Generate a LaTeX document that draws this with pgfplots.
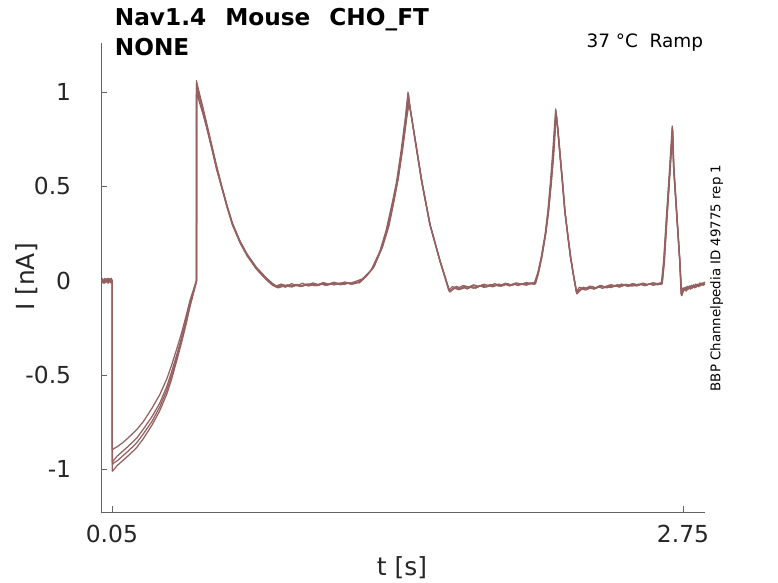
\documentclass[border=0pt]{standalone}
\usepackage{pgfplots}
\pgfplotsset{compat=1.18}
\usepackage{fontspec}
\setmainfont{DejaVu Sans}
\definecolor{chtrace}{RGB}{148,96,96}
\definecolor{axgray}{RGB}{100,100,100}
\tikzset{tr/.style={draw=chtrace, line width=1.25bp, line join=round, mark=none}}
\begin{document}
\begin{tikzpicture}
\useasboundingbox (-101.3bp,-71bp) rectangle (676.7bp,512bp);
\begin{axis}[
  at={(0,0)}, anchor=south west,
  scale only axis, width=603.7bp, height=468.7bp,
  xmin=0, xmax=2.854, ymin=-1.226, ymax=1.258,
  axis lines=left, axis line style={-, draw=axgray, line width=0.7bp},
  tick style={draw=axgray, line width=0.7bp},
  tick align=inside, major tick length=5.5bp,
  xtick={0.05,2.75}, xticklabels={0.05,2.75},
  ytick={-1,-0.5,0,0.5,1}, yticklabels={-1,-0.5,0,0.5,1},
  ticklabel style={font=\fontsize{23.5}{28}\selectfont, text=black!85, inner sep=0pt},
  yticklabel style={anchor=east, xshift=-30bp},
  xticklabel style={anchor=north, yshift=-13bp},
  clip=true,
]
% trace A
\addplot[tr] coordinates {
(0.000,-0.005)(0.005,0.010)(0.010,-0.010)(0.015,0.005)(0.020,-0.008)(0.025,0.008)(0.030,-0.004)(0.035,0.012)(0.040,-0.006)(0.045,0.006)(0.050,-0.002)(0.052,0.000)
(0.0521,-0.96)(0.060,-0.95)(0.075,-0.93)(0.10,-0.905)(0.13,-0.875)(0.167,-0.835)(0.20,-0.785)(0.24,-0.72)(0.276,-0.65)(0.31,-0.56)(0.333,-0.48)(0.36,-0.38)(0.38,-0.30)(0.40,-0.21)(0.419,-0.12)(0.435,-0.06)(0.450,0.0)
(0.4505,1.04)(0.46,1.00)(0.48,0.91)(0.498,0.825)(0.52,0.72)(0.545,0.60)(0.57,0.495)(0.593,0.40)(0.62,0.30)(0.656,0.205)(0.69,0.135)(0.734,0.065)(0.78,0.01)(0.81,-0.02)(0.83,-0.032)
(0.85,-0.025)(0.87,-0.035)(0.89,-0.022)(0.91,-0.030)(0.93,-0.020)(0.95,-0.028)(0.97,-0.018)(0.99,-0.026)(1.01,-0.016)(1.03,-0.024)(1.05,-0.014)(1.07,-0.022)(1.09,-0.013)(1.11,-0.021)(1.13,-0.012)(1.15,-0.020)(1.17,-0.011)(1.19,-0.017)(1.21,-0.010)
(1.24,0.01)(1.28,0.06)(1.32,0.16)(1.35,0.27)(1.38,0.42)(1.40,0.53)(1.42,0.69)(1.44,0.87)(1.452,0.99)
(1.46,0.91)(1.482,0.76)(1.514,0.53)(1.553,0.30)(1.60,0.11)(1.625,0.02)(1.645,-0.055)
(1.66,-0.045)(1.68,-0.030)(1.70,-0.042)(1.72,-0.028)(1.74,-0.038)(1.76,-0.025)(1.78,-0.034)(1.80,-0.022)(1.82,-0.031)(1.84,-0.020)(1.86,-0.028)(1.88,-0.018)(1.90,-0.026)(1.92,-0.016)(1.94,-0.024)(1.96,-0.015)(1.98,-0.022)(2.00,-0.013)(2.02,-0.020)(2.04,-0.012)(2.05,-0.015)
(2.065,0.04)(2.081,0.125)(2.10,0.25)(2.113,0.37)(2.125,0.52)(2.136,0.67)(2.149,0.90)
(2.158,0.80)(2.168,0.67)(2.18,0.52)(2.191,0.37)(2.205,0.24)(2.218,0.125)(2.232,0.03)(2.247,-0.065)
(2.26,-0.048)(2.28,-0.035)(2.30,-0.045)(2.32,-0.030)(2.34,-0.040)(2.36,-0.027)(2.38,-0.036)(2.40,-0.024)(2.42,-0.032)(2.44,-0.021)(2.46,-0.029)(2.48,-0.019)(2.50,-0.027)(2.52,-0.017)(2.54,-0.025)(2.56,-0.016)(2.58,-0.023)(2.60,-0.014)(2.62,-0.021)(2.64,-0.012)(2.65,-0.015)
(2.66,0.10)(2.672,0.32)(2.688,0.59)(2.70,0.81)
(2.706,0.59)(2.722,0.32)(2.735,0.10)(2.742,-0.075)
(2.75,-0.050)(2.76,-0.035)(2.77,-0.045)(2.78,-0.028)(2.79,-0.038)(2.80,-0.022)(2.81,-0.032)(2.82,-0.018)(2.83,-0.026)(2.84,-0.012)(2.85,-0.020)
};
% trace B
\addplot[tr] coordinates {
(0.000,0.008)(0.004,-0.012)(0.008,0.004)(0.013,-0.015)(0.018,0.010)(0.023,-0.006)(0.028,0.012)(0.033,-0.010)(0.038,0.006)(0.043,-0.012)(0.048,0.008)(0.052,-0.004)
(0.0522,-1.01)(0.060,-1.00)(0.075,-0.98)(0.10,-0.955)(0.13,-0.925)(0.167,-0.885)(0.20,-0.835)(0.24,-0.765)(0.276,-0.69)(0.31,-0.60)(0.333,-0.52)(0.36,-0.41)(0.38,-0.325)(0.40,-0.235)(0.419,-0.14)(0.435,-0.07)(0.451,0.0)
(0.4515,1.02)(0.46,0.96)(0.48,0.885)(0.498,0.81)(0.52,0.71)(0.545,0.59)(0.57,0.49)(0.593,0.395)(0.62,0.295)(0.656,0.20)(0.69,0.13)(0.734,0.06)(0.78,0.005)(0.81,-0.025)(0.835,-0.038)
(0.86,-0.030)(0.88,-0.022)(0.90,-0.034)(0.92,-0.024)(0.94,-0.031)(0.96,-0.021)(0.98,-0.029)(1.00,-0.019)(1.02,-0.027)(1.04,-0.017)(1.06,-0.025)(1.08,-0.015)(1.10,-0.023)(1.12,-0.014)(1.14,-0.021)(1.16,-0.012)(1.18,-0.019)(1.20,-0.010)(1.22,-0.012)
(1.25,0.02)(1.29,0.075)(1.33,0.18)(1.36,0.29)(1.385,0.43)(1.405,0.55)(1.425,0.70)(1.445,0.87)(1.455,0.94)
(1.465,0.88)(1.485,0.74)(1.517,0.52)(1.556,0.29)(1.603,0.10)(1.628,0.01)(1.648,-0.06)
(1.67,-0.040)(1.69,-0.048)(1.71,-0.034)(1.73,-0.044)(1.75,-0.030)(1.77,-0.040)(1.79,-0.027)(1.81,-0.036)(1.83,-0.024)(1.85,-0.033)(1.87,-0.022)(1.89,-0.030)(1.91,-0.020)(1.93,-0.028)(1.95,-0.018)(1.97,-0.026)(1.99,-0.016)(2.01,-0.024)(2.03,-0.014)(2.045,-0.020)(2.053,-0.016)
(2.068,0.045)(2.084,0.13)(2.102,0.255)(2.115,0.37)(2.127,0.51)(2.138,0.655)(2.151,0.88)
(2.16,0.79)(2.17,0.66)(2.182,0.51)(2.193,0.36)(2.207,0.23)(2.22,0.12)(2.234,0.02)(2.249,-0.07)
(2.27,-0.042)(2.29,-0.050)(2.31,-0.036)(2.33,-0.045)(2.35,-0.032)(2.37,-0.041)(2.39,-0.028)(2.41,-0.037)(2.43,-0.025)(2.45,-0.034)(2.47,-0.023)(2.49,-0.031)(2.51,-0.021)(2.53,-0.029)(2.55,-0.019)(2.57,-0.027)(2.59,-0.017)(2.61,-0.025)(2.63,-0.015)(2.645,-0.020)(2.652,-0.016)
(2.662,0.10)(2.674,0.32)(2.689,0.58)(2.701,0.80)
(2.707,0.60)(2.723,0.32)(2.736,0.09)(2.744,-0.08)
(2.755,-0.045)(2.765,-0.055)(2.775,-0.035)(2.785,-0.045)(2.795,-0.028)(2.805,-0.038)(2.815,-0.022)(2.825,-0.032)(2.835,-0.016)(2.845,-0.025)(2.853,-0.010)
};
% trace C
\addplot[tr] coordinates {
(0.000,-0.010)(0.006,0.006)(0.012,-0.012)(0.017,0.012)(0.022,-0.004)(0.027,0.005)(0.032,-0.014)(0.037,0.010)(0.042,-0.003)(0.047,0.013)(0.051,-0.008)(0.052,0.000)
(0.0523,-0.895)(0.06,-0.89)(0.075,-0.88)(0.10,-0.86)(0.13,-0.83)(0.167,-0.79)(0.20,-0.745)(0.24,-0.675)(0.276,-0.605)(0.31,-0.52)(0.333,-0.445)(0.36,-0.35)(0.38,-0.275)(0.40,-0.19)(0.419,-0.105)(0.435,-0.05)(0.449,0.0)
(0.4495,1.06)(0.46,1.01)(0.48,0.92)(0.498,0.835)(0.52,0.73)(0.545,0.61)(0.57,0.50)(0.593,0.405)(0.62,0.305)(0.656,0.21)(0.69,0.14)(0.734,0.07)(0.78,0.015)(0.81,-0.015)(0.828,-0.028)
(0.85,-0.018)(0.875,-0.030)(0.90,-0.016)(0.925,-0.027)(0.95,-0.014)(0.975,-0.024)(1.00,-0.012)(1.025,-0.021)(1.05,-0.010)(1.075,-0.019)(1.10,-0.008)(1.125,-0.017)(1.15,-0.007)(1.175,-0.014)(1.20,-0.005)
(1.235,0.01)(1.275,0.055)(1.315,0.15)(1.345,0.26)(1.375,0.41)(1.395,0.52)(1.415,0.67)(1.437,0.86)(1.45,1.00)
(1.458,0.93)(1.48,0.77)(1.512,0.54)(1.551,0.31)(1.598,0.115)(1.622,0.025)(1.642,-0.05)
(1.66,-0.032)(1.685,-0.040)(1.71,-0.026)(1.735,-0.035)(1.76,-0.022)(1.785,-0.031)(1.81,-0.019)(1.835,-0.028)(1.86,-0.016)(1.885,-0.025)(1.91,-0.014)(1.935,-0.022)(1.96,-0.012)(1.985,-0.020)(2.01,-0.010)(2.035,-0.017)(2.048,-0.010)
(2.063,0.04)(2.079,0.12)(2.098,0.245)(2.111,0.37)(2.123,0.52)(2.134,0.68)(2.148,0.91)
(2.157,0.81)(2.167,0.68)(2.179,0.53)(2.19,0.38)(2.204,0.25)(2.217,0.13)(2.231,0.035)(2.246,-0.06)
(2.26,-0.035)(2.285,-0.043)(2.31,-0.029)(2.335,-0.038)(2.36,-0.025)(2.385,-0.034)(2.41,-0.021)(2.435,-0.030)(2.46,-0.018)(2.485,-0.027)(2.51,-0.016)(2.535,-0.024)(2.56,-0.013)(2.585,-0.021)(2.61,-0.011)(2.635,-0.018)(2.648,-0.010)
(2.658,0.10)(2.671,0.33)(2.687,0.60)(2.699,0.82)
(2.705,0.61)(2.721,0.33)(2.734,0.11)(2.741,-0.07)
(2.75,-0.038)(2.76,-0.048)(2.77,-0.030)(2.78,-0.040)(2.79,-0.024)(2.80,-0.034)(2.81,-0.018)(2.82,-0.028)(2.83,-0.012)(2.84,-0.022)(2.852,-0.006)
};
% trace D
\addplot[tr] coordinates {
(0.000,0.004)(0.007,-0.008)(0.014,0.009)(0.021,-0.011)(0.028,0.006)(0.035,-0.007)(0.042,0.010)(0.049,-0.009)(0.052,0.003)
(0.0524,-0.975)(0.06,-0.965)(0.075,-0.955)(0.10,-0.93)(0.13,-0.90)(0.167,-0.86)(0.20,-0.81)(0.24,-0.745)(0.276,-0.67)(0.31,-0.58)(0.333,-0.50)(0.36,-0.395)(0.38,-0.315)(0.40,-0.225)(0.419,-0.13)(0.435,-0.065)(0.4505,0.0)
(0.451,1.03)(0.46,0.985)(0.48,0.90)(0.498,0.815)(0.52,0.715)(0.545,0.595)(0.57,0.493)(0.593,0.398)(0.62,0.298)(0.656,0.203)(0.69,0.133)(0.734,0.063)(0.78,0.008)(0.81,-0.022)(0.832,-0.035)
(0.86,-0.022)(0.89,-0.032)(0.92,-0.020)(0.95,-0.030)(0.98,-0.017)(1.01,-0.027)(1.04,-0.015)(1.07,-0.024)(1.10,-0.012)(1.13,-0.022)(1.16,-0.010)(1.19,-0.018)(1.215,-0.008)
(1.245,0.015)(1.285,0.068)(1.325,0.17)(1.355,0.28)(1.383,0.425)(1.403,0.54)(1.423,0.695)(1.443,0.87)(1.453,0.96)
(1.462,0.90)(1.483,0.75)(1.515,0.525)(1.554,0.295)(1.601,0.105)(1.626,0.015)(1.646,-0.058)
(1.67,-0.036)(1.70,-0.045)(1.73,-0.031)(1.76,-0.040)(1.79,-0.026)(1.82,-0.034)(1.85,-0.021)(1.88,-0.029)(1.91,-0.017)(1.94,-0.025)(1.97,-0.014)(2.00,-0.022)(2.03,-0.012)(2.051,-0.014)
(2.066,0.042)(2.082,0.127)(2.101,0.252)(2.114,0.37)(2.126,0.515)(2.137,0.66)(2.15,0.89)
(2.159,0.795)(2.169,0.665)(2.181,0.515)(2.192,0.365)(2.206,0.235)(2.219,0.122)(2.233,0.025)(2.248,-0.068)
(2.27,-0.046)(2.30,-0.038)(2.33,-0.043)(2.36,-0.030)(2.39,-0.038)(2.42,-0.026)(2.45,-0.033)(2.48,-0.021)(2.51,-0.029)(2.54,-0.018)(2.57,-0.025)(2.60,-0.015)(2.63,-0.022)(2.651,-0.013)
(2.661,0.10)(2.673,0.32)(2.6885,0.585)(2.7005,0.805)
(2.7065,0.595)(2.7225,0.32)(2.7355,0.095)(2.743,-0.078)
(2.752,-0.052)(2.762,-0.040)(2.772,-0.048)(2.782,-0.032)(2.792,-0.041)(2.802,-0.026)(2.812,-0.035)(2.822,-0.020)(2.832,-0.028)(2.842,-0.015)(2.854,-0.022)
};
\end{axis}
\node[anchor=base west, inner sep=0pt, font=\fontsize{23.3}{28}\selectfont\bfseries] at (13.4bp,486bp) {Nav1.4\hspace{0.82em}Mouse\hspace{0.82em}CHO\_FT};
\node[anchor=base west, inner sep=0pt, font=\fontsize{23.3}{28}\selectfont\bfseries] at (13.4bp,456.5bp) {NONE};
\node[anchor=base east, inner sep=0pt, font=\fontsize{18.5}{22}\selectfont] at (602bp,464.7bp) {37 °C\ \ Ramp};
\node[anchor=center, rotate=90, inner sep=0pt, font=\fontsize{13.4}{16}\selectfont] at (615.4bp,234bp) {BBP Channelpedia ID 49775 rep 1};
\node[anchor=base, rotate=90, inner sep=0pt, font=\fontsize{25}{30}\selectfont, text=black!85] at (-66.3bp,235bp) {I [nA]};
\node[anchor=base, inner sep=0pt, font=\fontsize{25}{30}\selectfont, text=black!85] at (300.7bp,-63bp) {t [s]};
\end{tikzpicture}
\end{document}
